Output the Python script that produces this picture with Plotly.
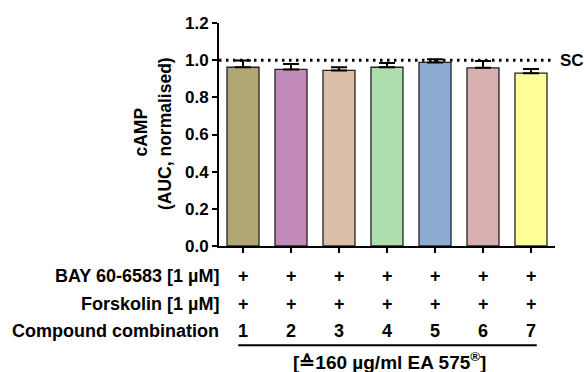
import plotly.graph_objects as go

categories = ["1", "2", "3", "4", "5", "6", "7"]
values = [0.962, 0.950, 0.945, 0.962, 0.988, 0.959, 0.930]
err_up = [0.036, 0.030, 0.017, 0.023, 0.017, 0.036, 0.022]
colors = ["#B2A774", "#C28AB8", "#DCBFA8", "#AEDEAE", "#8BABD3", "#D8B0B0", "#FFFF99"]
row_labels = ["BAY 60-6583 [1 µM]", "Forskolin [1 µM]", "Compound combination"]
row_marks = [["+"] * 7, ["+"] * 7, categories]
title_lines = ["cAMP", "(AUC, normalised)"]
sc_level = 1.0
bracket_text = "[≙160 µg/ml EA 575<sup>®</sup>]"

FONT = "Liberation Sans, Arial, sans-serif"
xs = list(range(len(categories)))

plot_left, plot_right = 219, 555
plot_top, plot_bot = 22.7, 246.3
def py(pix):
    return (plot_bot - pix) / (plot_bot - plot_top)
def px(pix):
    return (pix - plot_left) / (plot_right - plot_left)

fig = go.Figure()
fig.add_trace(go.Bar(
    x=xs, y=values, width=0.667,
    marker=dict(color=colors, line=dict(color="#222222", width=1.3)),
    error_y=dict(type="data", array=err_up, arrayminus=[0] * 7, symmetric=False,
                 color="#000000", thickness=2, width=8),
    showlegend=False,
))

# dotted reference line
fig.add_shape(type="line", xref="paper", yref="y", x0=0, x1=0.995, y0=sc_level, y1=sc_level,
              line=dict(color="#000000", width=3, dash="2.5px,4.5px"))
fig.add_annotation(xref="paper", yref="y", x=1, y=sc_level, text="<b>SC</b>", showarrow=False,
                   xanchor="left", yanchor="middle", xshift=3, font=dict(size=17, family=FONT, color="#000"))

# y title (two rotated lines)
for line_text, cx, cy in zip(title_lines, [141, 165], [132.5, 134]):
    fig.add_annotation(xref="paper", yref="paper", x=px(cx), y=py(cy), text="<b>" + line_text + "</b>",
                       showarrow=False, textangle=-90, xanchor="center", yanchor="middle",
                       font=dict(size=17.5, family=FONT, color="#000"))

# table below
row_y = [276, 304, 332]
for lab, marks, yy in zip(row_labels, row_marks, row_y):
    fig.add_annotation(xref="paper", yref="paper", x=px(221), y=py(yy), text="<b>" + lab + "</b>",
                       showarrow=False, xanchor="right", yanchor="middle",
                       font=dict(size=18, family=FONT, color="#000"))
    for xi, m in zip(xs, marks):
        fig.add_annotation(xref="x", yref="paper", x=xi, y=py(yy), text="<b>" + m + "</b>",
                           showarrow=False, xanchor="center", yanchor="middle",
                           font=dict(size=18, family=FONT, color="#000"))

fig.add_shape(type="line", xref="x", yref="paper", x0=-0.1, x1=6.12, y0=py(345.7), y1=py(345.7),
              line=dict(color="#000", width=2))
fig.add_annotation(xref="x", yref="paper", x=3.06, y=py(362), text="<b>" + bracket_text + "</b>",
                   showarrow=False, xanchor="center", yanchor="middle",
                   font=dict(size=19, family=FONT, color="#000"))

fig.update_layout(
    width=584, height=372, autosize=False,
    margin=dict(l=219, r=29, t=23, b=126, pad=0),
    plot_bgcolor="white", paper_bgcolor="white",
    bargap=0.333,
    font=dict(family=FONT, color="#000"),
)
fig.update_xaxes(range=[-0.5, 6.5], tickvals=xs, showticklabels=False, ticks="outside", ticklen=5,
                 tickwidth=2, tickcolor="#000", showline=True, linecolor="#000", linewidth=2,
                 showgrid=False, zeroline=False, fixedrange=True)
fig.update_yaxes(range=[0, 1.2], tickvals=[0, 0.2, 0.4, 0.6, 0.8, 1.0, 1.2],
                 ticktext=["<b>0.0</b>", "<b>0.2</b>", "<b>0.4</b>", "<b>0.6</b>", "<b>0.8</b>", "<b>1.0</b>", "<b>1.2</b>"],
                 ticks="outside", ticklen=5, tickwidth=2, tickcolor="#000", showline=True,
                 linecolor="#000", linewidth=2, showgrid=False, zeroline=False,
                 tickfont=dict(size=17, family=FONT, color="#000"), fixedrange=True)

fig.write_html("out.html", config={"displayModeBar": False})
